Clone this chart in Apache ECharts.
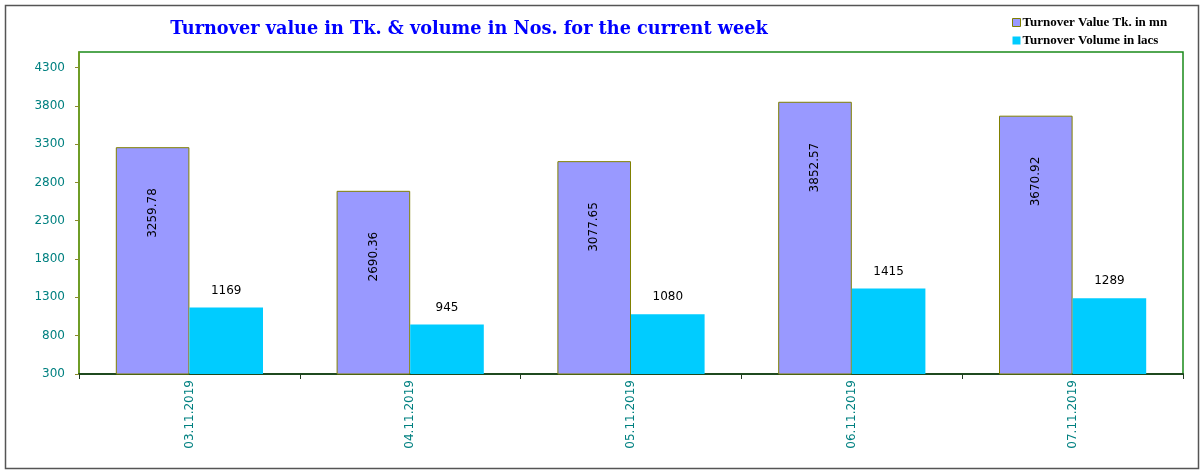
<!DOCTYPE html>
<html>
<head>
<meta charset="utf-8">
<script src="https://cdn.jsdelivr.net/npm/echarts@6/dist/echarts.min.js"></script>
<style>
html,body{margin:0;padding:0;background:#fff;}
#chart{width:1200px;height:470px;}
</style>
</head>
<body>
<div id="chart"></div>
<script>
const categories = ['03.11.2019', '04.11.2019', '05.11.2019', '06.11.2019', '07.11.2019'];
const turnoverValue = [3259.78, 2690.36, 3077.65, 3852.57, 3670.92];
const turnoverVolume = [1169, 945, 1080, 1415, 1289];
const yTicks = [300, 800, 1300, 1800, 2300, 2800, 3300, 3800, 4300];
const seriesNames = ['Turnover Value Tk. in mn', 'Turnover Volume in lacs'];
const titleText = 'Turnover value in Tk. & volume in Nos. for the current week';

const chart = echarts.init(document.getElementById('chart'), null, {renderer: 'canvas'});
const teal = '#008080';
const purple = '#9999FF', olive = '#808000', cyan = '#00CCFF';
const option = {
  animation: false,
  backgroundColor: '#fff',
  title: {
    text: titleText,
    left: 464, top: 15,
    textAlign: 'center',
    textStyle: {fontFamily: 'DejaVu Serif', fontWeight: 'bold', fontSize: 17.7, color: '#0000FF'}
  },
  legend: {
    orient: 'vertical',
    left: 1007, top: 11,
    itemWidth: 8, itemHeight: 8, itemGap: 5,
    icon: 'rect',
    textStyle: {fontFamily: 'Liberation Serif', fontWeight: 'bold', fontSize: 13, color: '#000', padding: [0,0,0,-3]},
    data: [
      {name: seriesNames[0], itemStyle: {color: purple, borderColor: olive, borderWidth: 1}},
      {name: seriesNames[1], itemStyle: {color: cyan, borderWidth: 0}}
    ]
  },
  graphic: [{
    type: 'rect', left: 3, top: 3, silent: true,
    shape: {width: 1193, height: 463},
    style: {fill: null, stroke: '#555', lineWidth: 1.5}
  }],
  grid: {
    left: 79, right: 17, top: 52, bottom: 96,
    show: true, borderColor: '#1a8a1a', borderWidth: 1.5, backgroundColor: '#fff'
  },
  xAxis: {
    type: 'category',
    data: categories,
    axisLine: {lineStyle: {color: '#1f4a1f', width: 2}},
    axisTick: {show: true, length: 5, lineStyle: {color: '#1f3a1f'}},
    axisLabel: {rotate: 90, margin: 6, color: teal, fontFamily: 'DejaVu Sans', fontSize: 12}
  },
  yAxis: {
    type: 'value',
    min: 300, max: 4502, interval: 500,
    splitLine: {show: false},
    axisLine: {show: true, lineStyle: {color: '#7a9a1a', width: 1.5}},
    axisTick: {show: true, length: 4, lineStyle: {color: '#8a8a2a'}, customValues: yTicks},
    axisLabel: {color: teal, fontFamily: 'DejaVu Sans', fontSize: 12, margin: 14, customValues: yTicks,
      formatter: v => String(v)}
  },
  series: [{
    name: seriesNames[0],
    type: 'bar',
    data: turnoverValue,
    barWidth: 73.6,
    barGap: '0%',
    itemStyle: {color: purple, borderColor: olive, borderWidth: 1},
    label: {
      show: true, position: 'insideTop', rotate: 90, distance: 41,
      align: 'right', verticalAlign: 'middle',
      color: '#000', fontFamily: 'DejaVu Sans', fontSize: 12,
      formatter: p => p.value.toFixed(2)
    }
  }, {
    name: seriesNames[1],
    type: 'bar',
    data: turnoverVolume,
    barWidth: 73.6,
    barGap: '0%',
    itemStyle: {color: cyan},
    label: {
      show: true, position: 'top', distance: 11,
      color: '#000', fontFamily: 'DejaVu Sans', fontSize: 12
    }
  }]
};
chart.setOption(option);
</script>
</body>
</html>
